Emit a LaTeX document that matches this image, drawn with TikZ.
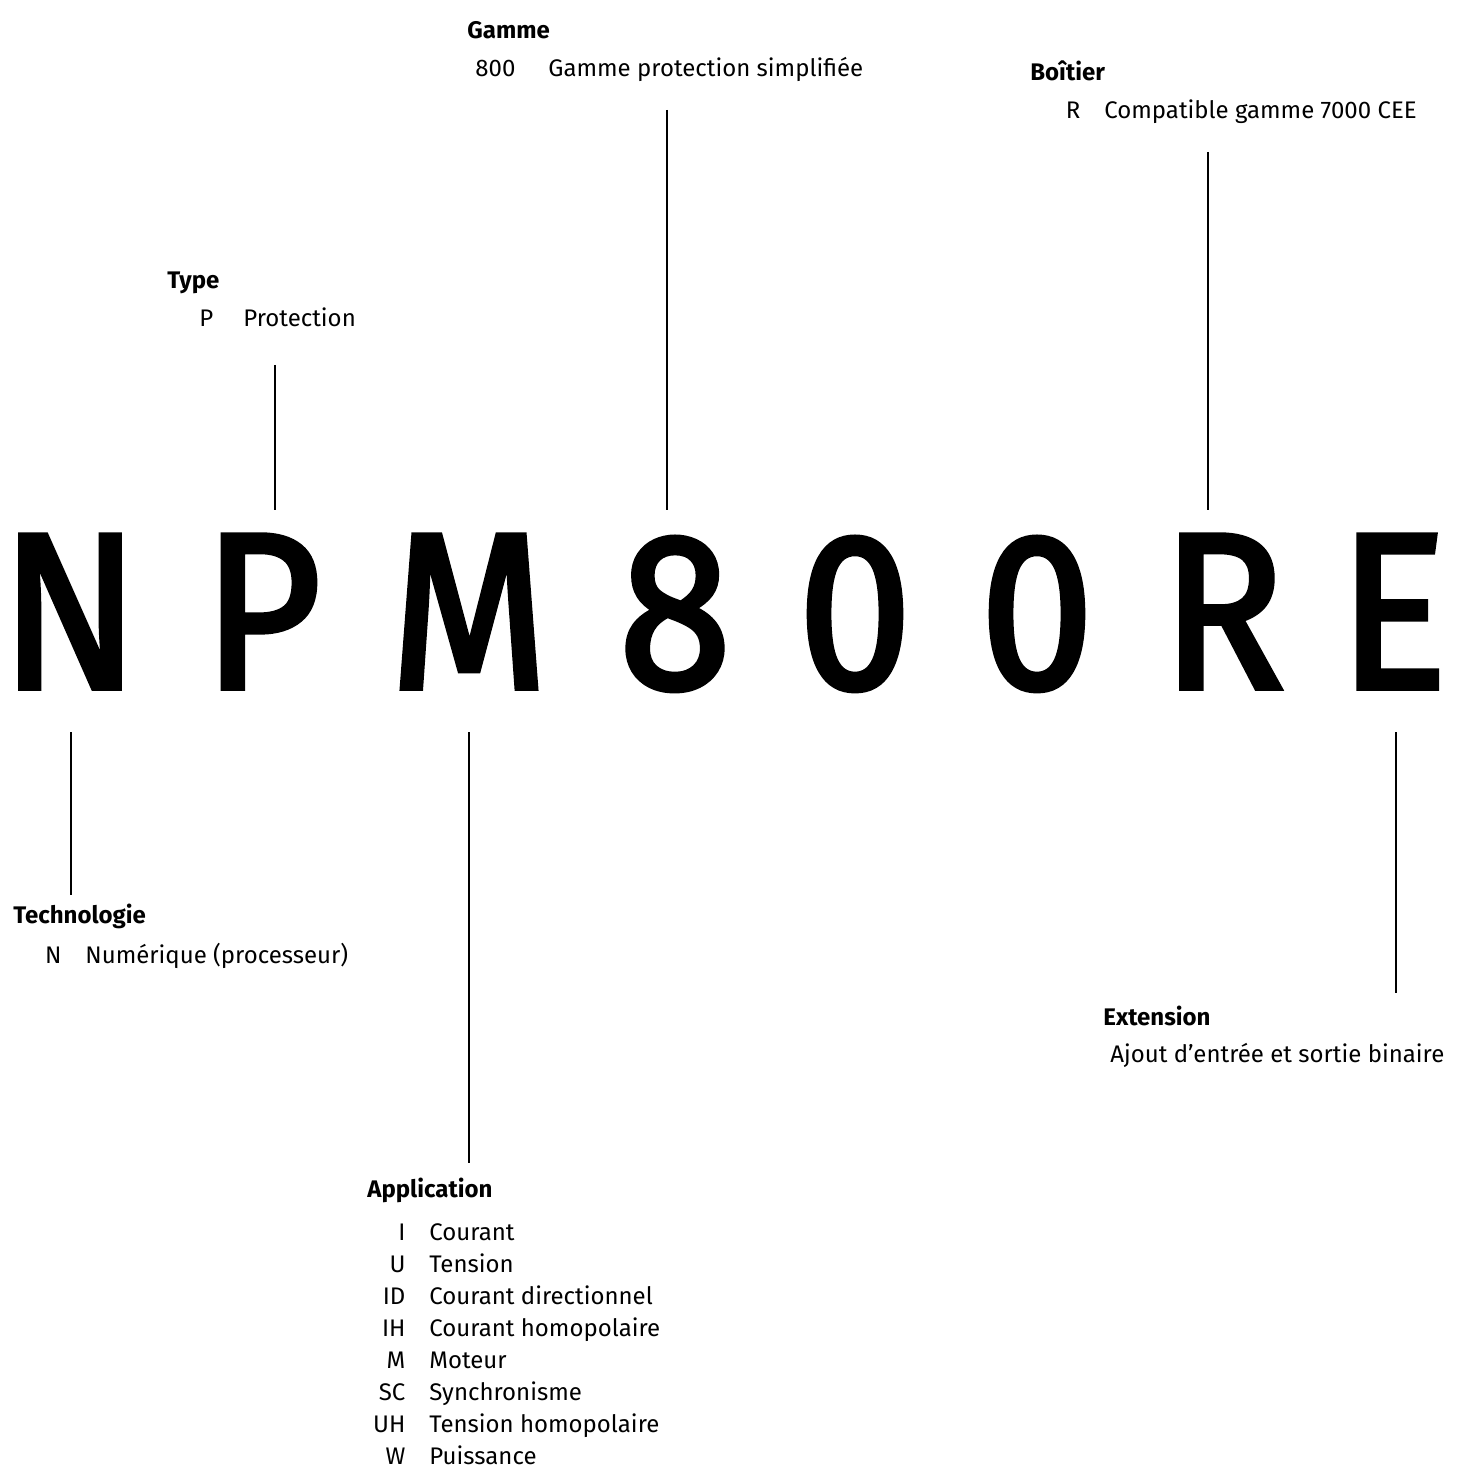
\documentclass[tikz,border=0pt]{standalone}
\usepackage{fontspec}
\setmainfont{Fira Sans}
\newfontfamily\codefont{Fira Sans}[FakeBold=2.5]
\usepackage{graphicx}
\usetikzlibrary{positioning}

\begin{document}
\begin{tikzpicture}[x=0.5pt, y=-0.5pt,
    letter/.style={inner sep=0pt, anchor=base, text height=89pt, text depth=22pt,
        font=\fontsize{111}{111}\codefont},
    group/.style={inner sep=0pt, anchor=base west, font=\fontsize{12}{16}\selectfont},
    lead/.style={line width=1pt}]

    \useasboundingbox (0,0) rectangle (1458,1470);

    % Reference code, one node per character
    \foreach \ch/\cx/\id in {N/70/N, P/262/P, M/469/M, 8/675/eight,
                             0/855/zeroa, 0/1037/zerob, R/1223/R, E/1393/E}
        \node[letter] (\id) at (\cx,688) {\scalebox{0.92}[1]{\ch}};

    % Gamme
    \node[group] (gamme) at (467,39) {\begin{tabular}[t]{@{}r@{\hspace{16.5pt}}l@{}}
        \multicolumn{2}{@{}l}{\bfseries Gamme}\\[3pt]
        \makebox[24pt][r]{800} & Gamme protection simplifiée
    \end{tabular}};

    % Boitier
    \node[group] (boitier) at (1030,81) {\begin{tabular}[t]{@{}r@{\hspace{12pt}}l@{}}
        \multicolumn{2}{@{}l}{\bfseries Boîtier}\\[3pt]
        \makebox[25pt][r]{R} & Compatible gamme 7000 CEE
    \end{tabular}};

    % Type
    \node[group] (type) at (167,289) {\begin{tabular}[t]{@{}r@{\hspace{15pt}}l@{}}
        \multicolumn{2}{@{}l}{\bfseries Type}\\[3pt]
        \makebox[23pt][r]{P} & Protection
    \end{tabular}};

    % Technologie
    \node[group] (techno) at (13,923) {\begin{tabular}[t]{@{}r@{\hspace{12pt}}l@{}}
        \multicolumn{2}{@{}l}{\bfseries Technologie}\\[4pt]
        \makebox[24pt][r]{N} & Numérique (processeur)
    \end{tabular}};

    % Extension
    \node[group] (extension) at (1103,1025) {\begin{tabular}[t]{@{}l@{}}
        \bfseries Extension\\[2.5pt]
        \hspace*{3.5pt}Ajout d’entrée et sortie binaire
    \end{tabular}};

    % Application
    \node[group] (appli) at (367,1197) {\begin{tabular}[t]{@{}r@{\hspace{12pt}}l@{}}
        \multicolumn{2}{@{}l}{\bfseries Application}\\[5.5pt]
        \makebox[19pt][r]{I}  & Courant\\
        U  & Tension\\
        ID & Courant directionnel\\
        IH & Courant homopolaire\\
        M  & Moteur\\
        SC & Synchronisme\\
        UH & Tension homopolaire\\
        W  & Puissance
    \end{tabular}};

    % Leader lines
    \coordinate (gammeend) at (667,110);
    \coordinate (boitierend) at (1208,152);
    \coordinate (typeend) at (275,365);
    \coordinate (technoend) at (71,895);
    \coordinate (appliend) at (469,1163);
    \coordinate (extend) at (1396,993);

    \draw[lead] (gammeend) -- (gammeend |- eight.north);
    \draw[lead] (boitierend) -- (boitierend |- R.north);
    \draw[lead] (typeend) -- (typeend |- P.north);
    \draw[lead] (N.south -| technoend) -- (technoend);
    \draw[lead] (M.south -| appliend) -- (appliend);
    \draw[lead] (E.south -| extend) -- (extend);

\end{tikzpicture}
\end{document}
